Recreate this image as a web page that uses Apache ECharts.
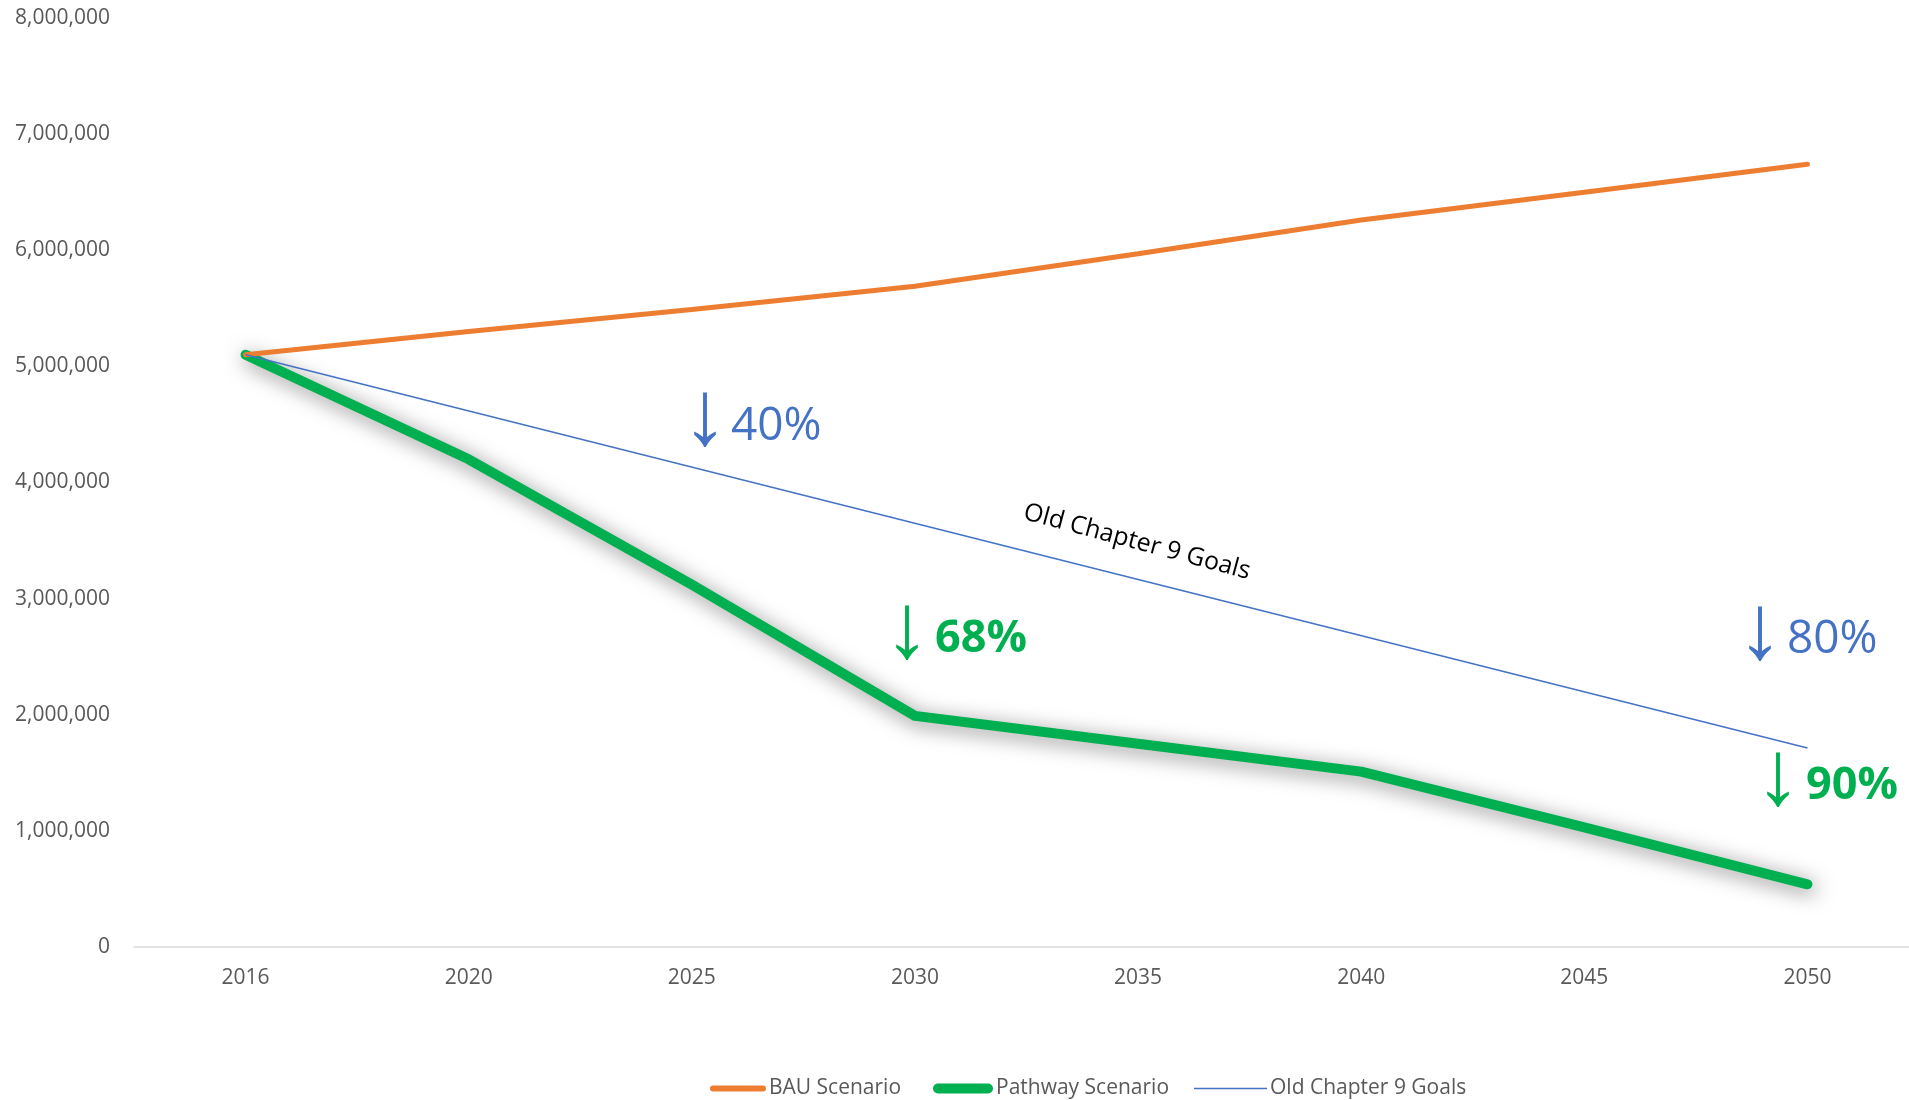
<!DOCTYPE html>
<html>
<head>
<meta charset="utf-8">
<script src="https://cdn.jsdelivr.net/npm/echarts@6/dist/echarts.min.js"></script>
<style>
html,body{margin:0;padding:0;background:#fff;overflow:hidden;width:1909px;height:1100px;}
#chart{width:1920px;height:1100px;}
</style>
</head>
<body>
<div id="chart"></div>
<script>
const years = ['2016','2020','2025','2030','2035','2040','2045','2050'];
const bauScenario = [5100000, 5300000, 5490000, 5690000, 5970000, 6260000, 6500000, 6740000];
const pathwayScenario = [5100000, 4200000, 3120000, 1990000, 1750000, 1510000, 1030000, 540000];
const oldChapter9Goals = [5100000, null, null, null, null, null, null, 1714000];
const seriesNames = ['BAU Scenario', 'Pathway Scenario', 'Old Chapter 9 Goals'];
const yTicks = { min: 0, max: 8000000, interval: 1000000 };

const FONT = '"Open Sans", "DejaVu Sans", sans-serif';
const ARROW_FONT = '"Liberation Sans", "DejaVu Sans", sans-serif';
const chart = echarts.init(document.getElementById('chart'), null, { renderer: 'canvas' });

const BLUE = '#4472C4', GREEN = '#00B050', ORANGE = '#ED7D31';
const legendText = { color: '#595959', fontSize: 21, fontFamily: FONT, padding: [0,0,0,-2] };

chart.setOption({
  animation: false,
  backgroundColor: '#ffffff',
  grid: { left: 134, top: 18, width: 1785, height: 929, containLabel: false },
  xAxis: {
    type: 'category',
    data: years,
    boundaryGap: true,
    axisLine: { show: true, lineStyle: { color: '#D9D9D9', width: 1.5 } },
    axisTick: { show: false },
    axisLabel: { color: '#595959', fontSize: 21, fontFamily: FONT, margin: 21 },
    splitLine: { show: false }
  },
  yAxis: {
    type: 'value',
    min: yTicks.min, max: yTicks.max, interval: yTicks.interval,
    axisLine: { show: false },
    axisTick: { show: false },
    splitLine: { show: false },
    axisLabel: {
      color: '#595959', fontSize: 21, fontFamily: FONT, margin: 24,
      formatter: v => v.toLocaleString('en-US')
    }
  },
  legend: [
    { left: 710, top: 1078, padding: 0, itemWidth: 56, itemHeight: 14, textStyle: legendText,
      data: [{ name: seriesNames[0], icon: 'path://M3,0 H53 A3,3 0 0 1 53,6 H3 A3,3 0 0 1 3,0 Z', itemStyle: { color: ORANGE } }] },
    { left: 933, top: 1078, padding: 0, itemWidth: 60, itemHeight: 14, textStyle: legendText,
      data: [{ name: seriesNames[1], icon: 'path://M5,0 H55 A5,5 0 0 1 55,10 H5 A5,5 0 0 1 5,0 Z', itemStyle: { color: GREEN } }] },
    { left: 1194, top: 1078, padding: 0, itemWidth: 73, itemHeight: 14, textStyle: legendText,
      data: [{ name: seriesNames[2], icon: 'path://M0,0 H73 V1.6 H0 Z', itemStyle: { color: BLUE } }] }
  ],
  series: [
    {
      name: seriesNames[0], type: 'line', data: bauScenario,
      symbol: 'none', z: 3,
      lineStyle: { color: ORANGE, width: 5, cap: 'round' },
      itemStyle: { color: ORANGE }
    },
    {
      name: seriesNames[1], type: 'line', data: pathwayScenario,
      symbol: 'none', z: 2,
      lineStyle: { color: GREEN, width: 10, cap: 'round', join: 'round',
        shadowBlur: 20, shadowColor: 'rgba(0,0,0,0.5)', shadowOffsetX: 3, shadowOffsetY: 4 },
      itemStyle: { color: GREEN }
    },
    {
      name: seriesNames[2], type: 'line', data: oldChapter9Goals,
      connectNulls: true, symbol: 'none', z: 4,
      lineStyle: { color: BLUE, width: 1.5 },
      itemStyle: { color: BLUE }
    }
  ],
  graphic: [
    { type: 'text', x: 705, y: 419, style: { text: '↓', fill: BLUE, font: '92px ' + ARROW_FONT, align: 'center', verticalAlign: 'middle' } },
    { type: 'text', left: 731, top: 404, style: { text: '40%', fill: BLUE, font: '46px ' + FONT } },
    { type: 'text', x: 907, y: 632, style: { text: '↓', fill: GREEN, font: '92px ' + ARROW_FONT, align: 'center', verticalAlign: 'middle' } },
    { type: 'text', left: 935, top: 617, style: { text: '68%', fill: GREEN, font: 'bold 45px ' + FONT } },
    { type: 'text', x: 1760, y: 633, style: { text: '↓', fill: BLUE, font: '92px ' + ARROW_FONT, align: 'center', verticalAlign: 'middle' } },
    { type: 'text', left: 1787, top: 617, style: { text: '80%', fill: BLUE, font: '46px ' + FONT } },
    { type: 'text', x: 1778, y: 779, style: { text: '↓', fill: GREEN, font: '92px ' + ARROW_FONT, align: 'center', verticalAlign: 'middle' } },
    { type: 'text', left: 1806, top: 764, style: { text: '90%', fill: GREEN, font: 'bold 45px ' + FONT } },
    { type: 'text', x: 1137, y: 542, rotation: -15 * Math.PI / 180,
      style: { text: 'Old Chapter 9 Goals', fill: '#000000', font: '25px ' + FONT, align: 'center', verticalAlign: 'middle' } }
  ]
});
</script>
</body>
</html>
